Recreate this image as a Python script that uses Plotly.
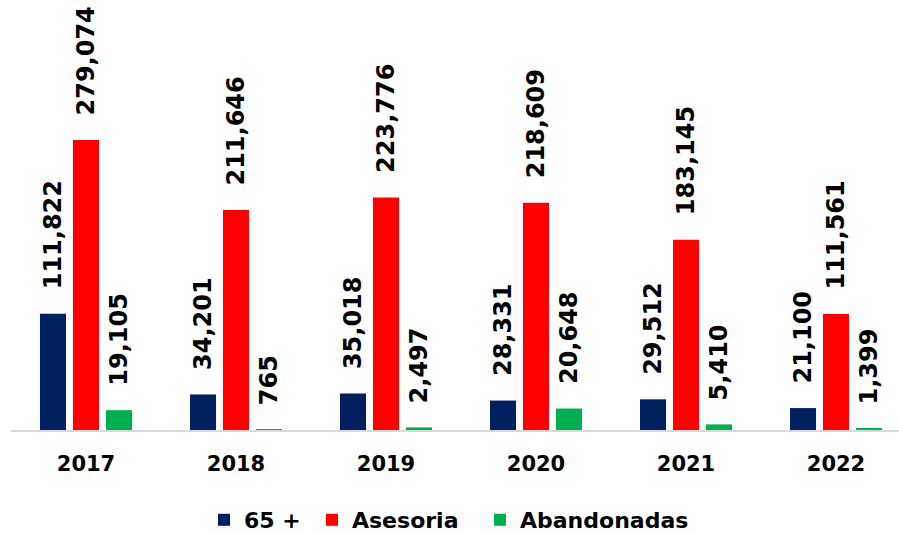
import plotly.graph_objects as go

years = ["2017", "2018", "2019", "2020", "2021", "2022"]
series_names = ["65 +", "Asesoria", "Abandonadas"]
v65 = [111822, 34201, 35018, 28331, 29512, 21100]
asesoria = [279074, 211646, 223776, 218609, 183145, 111561]
abandonadas = [19105, 765, 2497, 20648, 5410, 1399]
colors = ["#002060", "#FF0000", "#00B050"]

FONT = "DejaVu Sans"
W, H = 899, 533
pos = list(range(len(years)))
legend_ids = ["legend", "legend2", "legend3"]
legend_left_px = [204, 312, 480]

fig = go.Figure()
all_vals = [v65, asesoria, abandonadas]
for name, vals, col, lg in zip(series_names, all_vals, colors, legend_ids):
    fig.add_trace(go.Bar(x=pos, y=vals, name=name, marker_color=col,
                         marker_line_width=0, legend=lg))

offsets = [-0.22, 0.0, 0.22]
for vals, off in zip(all_vals, offsets):
    for p, v in zip(pos, vals):
        fig.add_annotation(x=p + off, y=v, xref="x", yref="y",
                           text=f"<b>{v:,}</b>", textangle=-90,
                           showarrow=False, xanchor="center", yanchor="bottom",
                           yshift=22,
                           font=dict(family=FONT, size=24, color="#000000"))

legend_style = dict(orientation="h", xref="container", yref="container",
                    xanchor="left", yanchor="middle", y=1 - 520 / H,
                    bgcolor="rgba(0,0,0,0)", borderwidth=0,
                    font=dict(family=FONT, size=22, color="#000000", weight="bold"))
legends = {lg: dict(x=px / W, **legend_style) for lg, px in zip(legend_ids, legend_left_px)}

fig.update_layout(
    width=W, height=H,
    margin=dict(l=11, r=0, t=0, b=103, autoexpand=False),
    paper_bgcolor="white", plot_bgcolor="white",
    barmode="group", bargap=0.34, bargroupgap=0.21,
    showlegend=True,
    xaxis=dict(type="linear", range=[-0.5, 5.42], autorange=False,
               tickmode="array", tickvals=pos, ticktext=years,
               showline=True, linecolor="#d9d9d9", linewidth=2,
               showgrid=False, zeroline=False, ticks="", ticklabelstandoff=14,
               tickfont=dict(family=FONT, size=21, color="#000000", weight="bold")),
    yaxis=dict(range=[0, 413780], autorange=False, visible=False,
               showgrid=False, zeroline=False),
    **legends,
)

fig.write_html("out.html", config={"displayModeBar": False},
               post_script="document.body.style.margin='0';")
